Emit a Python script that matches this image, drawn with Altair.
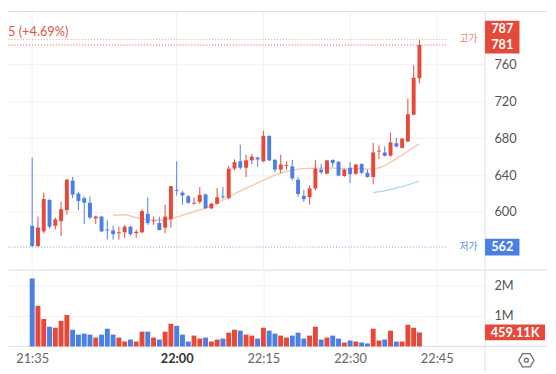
import altair as alt
import pandas as pd

# ---------------- data ----------------
opens = [585, 563, 579, 613, 585, 590, 602, 634, 620, 615, 610, 593, 595, 581, 580, 577, 578,
         584, 577, 578, 598, 590, 588, 583, 592, 624, 621, 617, 609, 611, 619, 604, 609, 617,
         615, 647, 655, 648, 656, 659, 655, 682.5, 656.5, 646, 650, 649.5, 635, 617.5, 616,
         625.5, 646, 641.5, 656.5, 654.5, 639, 648, 641.5, 652, 642.5, 638, 665.5, 664.5, 661,
         674.5, 669.5, 676.5, 705.5, 745]
highs = [659, 595, 621, 614, 594, 611, 636, 638, 622, 617, 617, 596, 596, 591, 585, 584, 586,
         585, 581, 603, 616, 595, 595, 608, 628, 655, 623, 618.5, 616, 627, 620, 610, 626, 627,
         650, 657, 673, 662, 663, 660, 688, 683, 657.6, 662, 655, 656.5, 638, 624, 629,
         656.5, 652, 656.5, 657, 655, 647, 654, 652, 653, 646, 675, 672, 671, 686,
         680.5, 680, 723, 759, 787]
lows = [562, 562, 577, 582, 581, 574, 597, 615, 602, 587, 592, 587, 578, 570, 570, 570, 572,
        574, 572, 577, 586, 586, 580, 577, 583, 618, 608, 609, 608, 609, 603.5, 603, 608, 614,
        614, 645, 646, 638, 652, 649, 654, 655, 643, 642, 646, 634.5, 616.5, 611, 608,
        623.5, 641, 641, 648.5, 639, 638, 631.5, 640, 641, 637, 630, 657.5, 660, 660,
        670, 669, 676, 705, 739.5]
closes = [563, 583, 614, 584, 592, 603, 635, 619, 612, 610, 594, 595, 579, 580, 576, 578, 584,
          576, 578.5, 601, 588, 591, 580.5, 595, 628, 623, 618, 610, 610, 618.5, 604, 609, 616, 616,
          647, 654, 648, 656, 660, 657, 682.5, 656, 646, 651.5, 651, 636.5, 619.5, 614, 625.5,
          647, 643, 656, 653, 639.5, 646, 641, 651.5, 642.5, 638, 664.5, 666.5, 661, 675.5,
          671, 679.5, 706, 745.5, 781]
volumes_m = [2.23, 1.33, 0.90, 0.645, 0.613, 0.839, 1.032, 0.548, 0.387, 0.419, 0.387, 0.29,
             0.387, 0.58, 0.387, 0.29, 0.161, 0.226, 0.161, 0.484, 0.484, 0.29, 0.226, 0.484,
             0.742, 0.677, 0.387, 0.161, 0.355, 0.258, 0.29, 0.161, 0.226, 0.258, 0.452, 0.548,
             0.516, 0.387, 0.355, 0.258, 0.613, 0.516, 0.419, 0.355, 0.29, 0.355, 0.452, 0.258,
             0.355, 0.645, 0.226, 0.29, 0.355, 0.258, 0.129, 0.194, 0.161, 0.129, 0.097, 0.58,
             0.194, 0.226, 0.516, 0.16, 0.16, 0.71, 0.613, 0.45911]

start_minute = 21 * 60 + 35
times = [f"2024-01-01T{(start_minute + i) // 60:02d}:{(start_minute + i) % 60:02d}:00Z"
         for i in range(len(opens))]

ma_a_idx = [14, 16, 18, 20, 22, 24, 26, 28, 30, 32, 34, 36, 38, 40, 42, 44, 46, 48, 50, 52,
            54, 56, 58, 60, 62, 64, 66, 67]
ma_a = [596.5, 597, 594, 591.5, 591, 593, 596.5, 600.5, 604.3, 609.5, 616, 623, 628.5, 634.5,
        640, 644, 646.5, 647.3, 647.5, 647.5, 646.8, 647.3, 646.5, 648, 654, 662, 670, 674]
ma_b_idx = [59, 61, 63, 65, 67]
ma_b = [621, 623, 626, 629.5, 633.5]

grid_times = ["2024-01-01T21:35:00Z", "2024-01-01T22:00:00Z", "2024-01-01T22:15:00Z",
              "2024-01-01T22:30:00Z", "2024-01-01T22:45:00Z"]

day_high, last_price, day_low = 787, 781, 562
last_volume = 459110
header_text = "5 (+4.69%)"

RED = "#e5493a"
BLUE = "#4a80e6"
LINE = "#dddddd"
GRID = "#f1f1f1"

df = pd.DataFrame({"t": times, "open": opens, "high": highs, "low": lows,
                   "close": closes, "vol": [v * 1e6 for v in volumes_m]})
df["dir"] = ["up" if c >= o else "down" for o, c in zip(opens, closes)]
ma_a_df = pd.DataFrame({"t": [times[i] for i in ma_a_idx], "ma": ma_a})
ma_b_df = pd.DataFrame({"t": [times[i] for i in ma_b_idx], "ma": ma_b})
grid_df = pd.DataFrame({"t": grid_times})

W = 485
HP = 262
HV = 78


def dt(h, m, s=0):
    return alt.DateTime(year=2024, month=1, date=1, hours=h, minutes=m, seconds=s, utc=True)


xscale = alt.Scale(type="utc", domain=[dt(21, 31, 40), dt(22, 52, 30)])
color = alt.Color("dir:N", scale=alt.Scale(domain=["up", "down"], range=[RED, BLUE]), legend=None)

price_scale = alt.Scale(domain=[538.5, 817.9], nice=False, zero=False)
price_axis = alt.Axis(orient="right", values=[600, 640, 680, 720, 760], domain=False, ticks=False,
                      labelPadding=9, labelFontSize=13, labelColor="#555", labelFont="Lato",
                      grid=True, gridColor=GRID, title=None)
x_hidden = alt.X("t:T", scale=xscale, axis=None)

base = alt.Chart(df)

grid_layer = alt.Chart(grid_df).mark_rule(color=GRID, strokeWidth=1).encode(
    x=x_hidden, y=alt.value(0.5), y2=alt.value(HP))

wicks = base.mark_rule(strokeWidth=1).encode(
    x=x_hidden,
    y=alt.Y("low:Q", scale=price_scale, axis=price_axis),
    y2="high:Q",
    color=color)

bodies = base.mark_bar(size=4).encode(
    x=x_hidden,
    y=alt.Y("open:Q", scale=price_scale, axis=price_axis),
    y2="close:Q",
    color=color)

ma_a_line = alt.Chart(ma_a_df).mark_line(color="#f9c6ad", strokeWidth=1.4, interpolate="monotone").encode(
    x=x_hidden, y=alt.Y("ma:Q", scale=price_scale, axis=price_axis))
ma_b_line = alt.Chart(ma_b_df).mark_line(color="#b3dbeb", strokeWidth=1.4, interpolate="monotone").encode(
    x=x_hidden, y=alt.Y("ma:Q", scale=price_scale, axis=price_axis))

hi_df = pd.DataFrame({"p": [day_high], "label": [str(day_high)], "name": ["고가"]})
cur_df = pd.DataFrame({"p": [last_price], "label": [str(last_price)]})
lo_df = pd.DataFrame({"p": [day_low], "label": [str(day_low)], "name": ["저가"]})

py = alt.Y("p:Q", scale=price_scale, axis=price_axis)

hi_rule = alt.Chart(hi_df).mark_rule(color="#f0a394", strokeDash=[1, 2], strokeWidth=1).encode(
    x=alt.value(0.5), x2=alt.value(446), y=py)
cur_rule = alt.Chart(cur_df).mark_rule(color="#e0483a", strokeDash=[1, 2], strokeWidth=1).encode(
    x=alt.value(0.5), x2=alt.value(446), y=py)
lo_rule = alt.Chart(lo_df).mark_rule(color="#6f9ded", strokeDash=[1, 2], strokeWidth=1).encode(
    x=alt.value(0.5), x2=alt.value(446), y=py)

hi_name = alt.Chart(hi_df).mark_text(color="#e8836f", fontSize=10, font="Noto Sans CJK KR",
                                     align="left", baseline="middle").encode(
    x=alt.value(459), y=py, text="name:N")
lo_name = alt.Chart(lo_df).mark_text(color="#5b8ee6", fontSize=10, font="Noto Sans CJK KR",
                                     align="left", baseline="middle").encode(
    x=alt.value(459), y=py, text="name:N")

hi_box = alt.Chart(hi_df).mark_rect(color=RED, yOffset=-19, y2Offset=-2).encode(
    x=alt.value(W), x2=alt.value(W + 35), y=py, y2="p:Q")
cur_box = alt.Chart(cur_df).mark_rect(color=RED, yOffset=-8.5, y2Offset=8.5).encode(
    x=alt.value(W), x2=alt.value(W + 35), y=py, y2="p:Q")
lo_box = alt.Chart(lo_df).mark_rect(color=BLUE, yOffset=-8.5, y2Offset=8.5).encode(
    x=alt.value(W), x2=alt.value(W + 35), y=py, y2="p:Q")

box_text = dict(color="white", fontSize=13, fontWeight="bold", font="Lato",
                align="center", baseline="middle")
hi_txt = alt.Chart(hi_df).mark_text(dy=-10.5, **box_text).encode(
    x=alt.value(W + 17.5), y=py, text="label:N")
cur_txt = alt.Chart(cur_df).mark_text(dy=0.5, **box_text).encode(
    x=alt.value(W + 17.5), y=py, text="label:N")
lo_txt = alt.Chart(lo_df).mark_text(dy=0.5, **box_text).encode(
    x=alt.value(W + 17.5), y=py, text="label:N")

head_df = pd.DataFrame({"txt": [header_text]})
header = alt.Chart(head_df).mark_text(color="#e0563f", fontSize=13, font="Lato",
                                      align="left", baseline="middle").encode(
    x=alt.value(0), y=alt.value(21), text="txt:N")

frame_df = pd.DataFrame({"k": [0]})
top_line = alt.Chart(frame_df).mark_rule(color=LINE).encode(
    x=alt.value(0.5), x2=alt.value(548), y=alt.value(0.5))
sep_top = alt.Chart(frame_df).mark_rule(color=LINE).encode(
    x=alt.value(W), y=alt.value(0.5), y2=alt.value(HP))

price = alt.layer(
    grid_layer, top_line, sep_top, ma_a_line, ma_b_line, wicks, bodies,
    hi_rule, cur_rule, lo_rule, hi_name, lo_name,
    hi_box, cur_box, lo_box, hi_txt, cur_txt, lo_txt, header
).properties(width=W, height=HP)

# ---------------- volume panel ----------------
vol_scale = alt.Scale(domain=[0, 2.516e6], nice=False)
vol_axis = alt.Axis(orient="right", values=[1e6, 2e6], labelExpr="datum.value / 1e6 + 'M'",
                    domain=False, ticks=False, labelPadding=9, labelFontSize=13,
                    labelColor="#555", labelFont="Lato", grid=True, gridColor=GRID, title=None)
x_axis = alt.Axis(values=[dt(21, 35), dt(22, 0), dt(22, 15), dt(22, 30), dt(22, 45)],
                  format="%H:%M", ticks=False, domain=False, grid=True, gridColor=GRID,
                  labelPadding=6, labelFontSize=13, labelFont="Lato", labelFlush=False,
                  labelColor={"expr": "datum.label == '22:00' ? '#333' : '#666'"},
                  labelFontWeight={"expr": "datum.label == '22:00' ? 'bold' : 'normal'"},
                  title=None)
x_vol = alt.X("t:T", scale=xscale, axis=x_axis)

vol_bars = base.mark_bar(size=5).encode(
    x=x_vol, y=alt.Y("vol:Q", scale=vol_scale, axis=vol_axis), color=color)

vlast_df = pd.DataFrame({"v": [last_volume], "label": [f"{last_volume / 1000:.2f}K"]})
vy = alt.Y("v:Q", scale=vol_scale, axis=vol_axis)
vbox = alt.Chart(vlast_df).mark_rect(color=RED, yOffset=-8, y2Offset=8).encode(
    x=alt.value(W), x2=alt.value(W + 61), y=vy, y2="v:Q")
vtxt = alt.Chart(vlast_df).mark_text(dy=0.5, **box_text).encode(
    x=alt.value(W + 30.5), y=vy, text="label:N")

mid_line = alt.Chart(frame_df).mark_rule(color=LINE).encode(
    x=alt.value(0.5), x2=alt.value(548), y=alt.value(0.5))
bot_line = alt.Chart(frame_df).mark_rule(color=LINE).encode(
    x=alt.value(0.5), x2=alt.value(548), y=alt.value(HV))
sep_bot = alt.Chart(frame_df).mark_rule(color=LINE).encode(
    x=alt.value(W), y=alt.value(0.5), y2=alt.value(104))

hexagon = "M-1,0 L-0.5,-0.866 L0.5,-0.866 L1,0 L0.5,0.866 L-0.5,0.866 Z"
icon_hex = alt.Chart(frame_df).mark_point(shape=hexagon, size=240, filled=False,
                                          color="#333", strokeWidth=1.3).encode(
    x=alt.value(527), y=alt.value(92))
icon_dot = alt.Chart(frame_df).mark_point(shape="circle", size=16, filled=False,
                                          color="#333", strokeWidth=1.3).encode(
    x=alt.value(527), y=alt.value(92))

volume = alt.layer(
    mid_line, bot_line, sep_bot, vol_bars, vbox, vtxt, icon_hex, icon_dot
).properties(width=W, height=HV)

chart = alt.vconcat(price, volume, spacing=0).properties(padding=0).configure_view(stroke=None)

chart.save("out.html", embed_options={"renderer": "svg", "actions": False})
